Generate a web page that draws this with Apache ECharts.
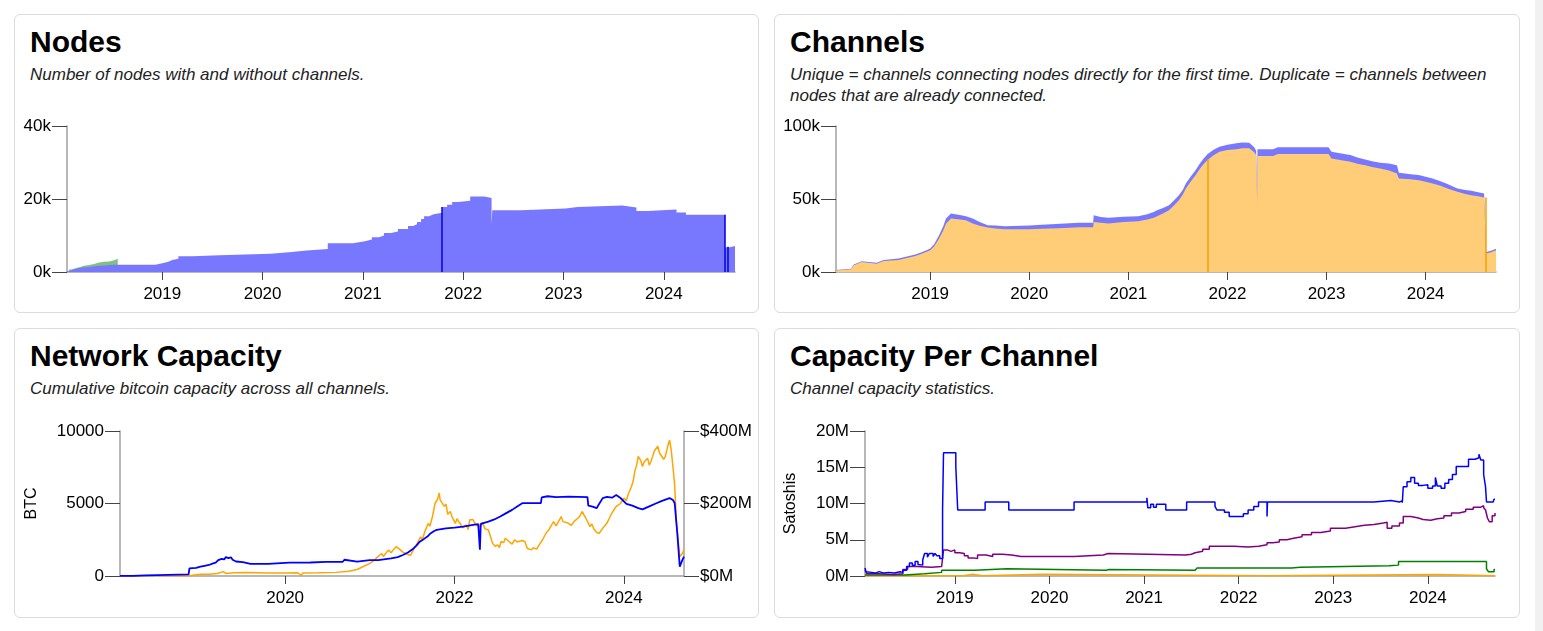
<!DOCTYPE html>
<html>
<head>
<meta charset="utf-8">
<script src="https://cdn.jsdelivr.net/npm/echarts@6/dist/echarts.min.js"></script>
<style>
  html, body { margin:0; padding:0; width:1543px; height:631px; overflow:hidden; background:#fff;
    font-family:'Liberation Sans', Arial, Helvetica, sans-serif; }
  .panel { position:absolute; box-sizing:border-box; border:1px solid #dcdcdc; border-radius:6px; background:#fff; }
  .title { position:absolute; left:15px; font-weight:bold; font-size:30px; line-height:30px; color:#000; white-space:nowrap; }
  .sub { position:absolute; left:15px; right:15px; font-style:italic; font-size:17px; line-height:21px; color:#222; }
  #chart { position:absolute; left:0; top:0; width:1543px; height:631px; z-index:2; }
  #scroll { position:absolute; left:1535px; top:0; width:8px; height:631px; background:#f1f1f1; }
</style>
</head>
<body>
<div class="panel" style="left:14px;top:14px;width:745px;height:299px;">
  <div class="title" style="top:12px;">Nodes</div>
  <div class="sub" style="top:49px;">Number of nodes with and without channels.</div>
</div>
<div class="panel" style="left:774px;top:14px;width:746px;height:299px;">
  <div class="title" style="top:12px;">Channels</div>
  <div class="sub" style="top:49px;">Unique = channels connecting nodes directly for the first time. Duplicate = channels between nodes that are already connected.</div>
</div>
<div class="panel" style="left:14px;top:328px;width:745px;height:290px;">
  <div class="title" style="top:12px;">Network Capacity</div>
  <div class="sub" style="top:49px;">Cumulative bitcoin capacity across all channels.</div>
</div>
<div class="panel" style="left:774px;top:328px;width:746px;height:290px;">
  <div class="title" style="top:12px;">Capacity Per Channel</div>
  <div class="sub" style="top:49px;">Channel capacity statistics.</div>
</div>
<div id="scroll"></div>
<div id="chart"></div>
<script>
// ---------- DATA (x = decimal year) ----------
const yearTicks = [2019, 2020, 2021, 2022, 2023, 2024];
const yearTicksCapacity = [2020, 2022, 2024];

// Nodes (thousands)
const nodeDates = [2018.05,2018.07,2018.10,2018.14,2018.18,2018.22,2018.27,2018.32,2018.37,2018.42,2018.47,2018.52,2018.556,
  2018.93,2019.00,2019.06,2019.10,2019.16,2019.30,2019.57,2020.08,2020.29,2020.44,2020.65,2020.90,2021.02,2021.09,2021.16,
  2021.21,2021.28,2021.35,2021.45,2021.50,2021.54,2021.58,2021.61,2021.66,2021.705,2021.79,2021.84,2021.89,2021.95,2022.07,
  2022.21,2022.283,2022.29,2022.575,2023.02,2023.14,2023.586,2023.727,2023.845,2023.98,2024.127,2024.221,2024.611,2024.66,2024.71];
const nodesWithChannels = [0.3,0.6,0.9,1.1,1.3,1.4,1.6,1.7,1.8,1.9,2.0,2.0,2.0,
  2.4,2.8,3.3,3.6,4.3,4.6,5.0,5.5,5.9,6.3,7.9,8.4,8.9,9.5,10.0,
  10.7,11.1,11.8,12.6,13.1,13.7,14.5,15.3,15.8,16.2,17.8,18.4,19.2,19.5,20.7,
  20.3,12.8,16.9,17.4,17.8,18.2,17.7,16.7,16.9,17.1,16.3,15.7,6.8,7.1,7.2];
const nodesWithoutChannels = [0,0.1,0.2,0.3,0.4,0.5,0.6,0.9,1.0,1.0,1.2,1.6,0,
  0,0,0,0,0,0,0,0,0,0,0,0,0,0,0,
  0,0,0,0,0,0,0,0,0,0,0,0,0,0,0,
  0,0,0,0,0,0,0,0,0,0,0,0,0,0,0];
const nodeGapDates = [2021.79, 2024.611, 2024.64];
const nodeGapHeights = [17.8, 15.7, 6.9];

// Channels (thousands)
const chanDates = [2018.05,2018.06,2018.20,2018.23,2018.31,2018.46,2018.53,2018.68,2018.85,2018.92,2018.97,2019.00,2019.04,2019.09,
  2019.13,2019.16,2019.21,2019.30,2019.36,2019.43,2019.50,2019.58,2019.66,2019.75,2020.00,2020.13,2020.36,2020.50,2020.645,2020.65,
  2020.72,2020.80,2020.95,2021.10,2021.19,2021.25,2021.29,2021.35,2021.41,2021.46,2021.51,2021.55,2021.58,2021.63,2021.68,
  2021.72,2021.76,2021.80,2021.86,2021.92,2022.00,2022.09,2022.15,2022.22,2022.27,2022.29,2022.300,2022.303,2022.46,2022.51,
  2023.02,2023.05,2023.15,2023.24,2023.32,2023.39,2023.46,2023.54,2023.63,2023.71,2023.73,2023.85,2023.93,2024.00,2024.07,
  2024.15,2024.22,2024.32,2024.40,2024.46,2024.53,2024.59,2024.611,2024.66,2024.71];
const uniqueChannels = [1.0,1.6,1.8,4.6,6.9,5.7,7.5,8.2,11.0,12.6,14.0,14.9,17.5,22.9,
  28.0,33.0,36.6,36.0,35.5,33.2,31.6,30.4,29.8,29.3,29.3,29.6,30.2,30.6,30.6,34.3,
  33.8,33.2,34.3,34.8,35.9,37.0,38.2,40.0,42.3,45.5,49.2,53.0,57.2,62.0,66.4,
  70.5,74.0,76.7,80.0,82.4,83.5,84.0,84.7,84.7,82.0,80.1,47.0,79.4,79.4,80.8,
  80.8,77.8,76.5,75.5,74.0,73.2,72.0,70.9,69.5,67.5,64.1,63.5,62.9,61.8,60.6,
  59.0,57.2,54.9,53.5,52.6,51.8,51.0,12.6,13.5,14.9];
const duplicateChannels = [0.3,0.4,0.4,0.5,0.5,0.6,0.7,1.0,1.0,1.1,1.1,1.2,1.5,2.3,
  3.0,3.6,3.4,3.0,2.7,3.4,2.6,1.6,2.0,2.1,2.5,2.7,3.0,3.2,3.2,4.6,
  3.8,3.9,3.5,3.3,3.7,3.9,4.1,3.8,3.5,3.4,3.4,3.4,3.4,3.4,3.4,
  3.6,3.8,4.1,3.8,3.4,3.6,4.1,4.0,3.9,3.5,3.0,0,4.6,4.6,4.6,
  4.6,4.6,4.6,4.6,4.3,3.9,3.9,3.9,4.8,5.7,3.9,3.5,3.5,3.5,3.5,
  3.2,3.0,2.3,2.6,3.0,2.8,2.8,1.1,1.0,1.1];
const chanGapDates = [2021.80, 2024.611];
const chanGapHeights = [77, 51];

// Network capacity: BTC (left axis)
const btcDates = [2018.05,2018.20,2018.35,2018.49,2018.50,2018.86,2018.87,2018.95,2019.00,2019.05,2019.10,2019.15,2019.18,
  2019.21,2019.25,2019.28,2019.30,2019.33,2019.36,2019.38,2019.42,2019.50,2019.59,2019.80,2020.05,2020.30,2020.48,2020.68,
  2020.70,2020.72,2020.85,2021.00,2021.10,2021.25,2021.33,2021.39,2021.45,2021.50,2021.55,2021.59,2021.64,2021.68,2021.72,
  2021.76,2021.79,2021.90,2022.00,2022.10,2022.22,2022.28,2022.295,2022.30,2022.31,2022.40,2022.47,2022.54,2022.60,2022.68,
  2022.74,2022.80,2023.02,2023.03,2023.10,2023.20,2023.35,2023.57,2023.58,2023.63,2023.68,2023.70,2023.75,2023.80,2023.86,
  2023.91,2023.96,2024.03,2024.10,2024.17,2024.22,2024.26,2024.32,2024.37,2024.45,2024.54,2024.58,2024.60,2024.63,2024.66,
  2024.69,2024.71];
const capacityBTC = [5,15,40,60,110,110,520,560,640,700,760,870,920,
  1100,1180,1150,1300,1230,1290,1120,1000,960,830,830,920,930,970,980,
  1120,1020,990,1100,1090,1220,1300,1450,1620,1820,2100,2370,2560,2720,2950,
  3100,3180,3290,3330,3400,3520,3580,3600,1820,3600,3750,3900,4100,4300,4560,
  4800,5020,5030,5420,5500,5440,5470,5440,4850,4780,4680,4900,5370,5450,5400,
  5580,5380,4980,4850,4680,4600,4700,4850,4980,5180,5370,5240,5020,3000,650,
  1100,1340];
// Network capacity: USD millions (right axis)
const usdDates = [2018.05,2018.50,2018.86,2018.87,2019.00,2019.10,2019.20,2019.27,2019.30,2019.40,2019.55,2019.80,2020.00,
  2020.15,2020.19,2020.21,2020.40,2020.60,2020.75,2020.85,2020.93,2021.00,2021.05,2021.08,2021.10,2021.14,2021.16,2021.18,
  2021.22,2021.25,2021.27,2021.31,2021.33,2021.35,2021.39,2021.44,2021.48,2021.53,2021.56,2021.60,2021.62,2021.65,2021.69,
  2021.71,2021.74,2021.77,2021.80,2021.82,2021.83,2021.85,2021.88,2021.90,2021.92,2021.95,2021.97,2022.01,2022.03,2022.05,
  2022.08,2022.10,2022.14,2022.16,2022.18,2022.22,2022.24,2022.26,2022.31,2022.33,2022.36,2022.40,2022.43,2022.45,2022.48,
  2022.51,2022.53,2022.55,2022.58,2022.60,2022.63,2022.65,2022.68,2022.71,2022.74,2022.76,2022.80,2022.83,2022.86,2022.88,
  2022.91,2022.93,2022.97,2023.00,2023.04,2023.06,2023.08,2023.11,2023.13,2023.17,2023.20,2023.22,2023.26,2023.28,2023.30,
  2023.34,2023.38,2023.41,2023.43,2023.47,2023.51,2023.53,2023.55,2023.60,2023.62,2023.65,2023.68,2023.71,2023.75,2023.78,
  2023.80,2023.83,2023.85,2023.88,2023.91,2023.96,2024.00,2024.03,2024.05,2024.09,2024.11,2024.13,2024.15,2024.17,2024.20,
  2024.22,2024.24,2024.28,2024.30,2024.32,2024.34,2024.36,2024.40,2024.42,2024.44,2024.47,2024.49,2024.52,2024.54,2024.56,
  2024.58,2024.60,2024.62,2024.66,2024.69,2024.71];
const capacityUSD = [0.2,0.5,1,4,4.5,5,7,12,7,9,9.5,8.5,8,
  9,2,8.5,9,10,13,18,27,35,43,50,46,62,54,56,
  72,64,68,81,76,74,66,60,57,78,90,108,100,123,145,
  138,164,200,212,229,210,205,192,198,170,178,164,145,158,150,
  140,133,141,128,155,155,146,140,136,148,130,127,105,90,82,
  86,78,95,92,104,98,96,88,100,94,92,98,95,76,81,
  72,78,74,86,100,96,118,126,130,150,138,140,164,150,155,
  146,140,150,155,162,178,168,160,136,144,128,120,118,132,140,
  146,160,170,182,192,200,215,208,225,247,262,290,305,330,318,
  302,315,325,306,316,330,345,358,340,335,322,330,360,375,345,
  300,250,150,53,62,72];

// Capacity per channel (millions of satoshis)
const blueDates = [2018.05,2018.06,2018.08,2018.12,2018.16,2018.20,2018.25,2018.30,2018.36,2018.42,2018.45,2018.49,2018.52,
  2018.55,2018.58,2018.61,2018.63,2018.66,2018.68,2018.71,2018.73,2018.77,2018.79,2018.81,2018.84,2018.87,2018.88,2019.01,
  2019.03,2019.32,2019.57,2020.26,2021.03,2021.04,2021.07,2021.10,2021.13,2021.23,2021.45,2021.75,2021.77,2021.85,2021.90,
  2022.05,2022.10,2022.16,2022.21,2022.30,2022.305,2023.43,2023.61,2023.70,2023.73,2023.74,2023.78,2023.82,2023.86,2023.90,
  2023.95,2024.00,2024.05,2024.08,2024.10,2024.14,2024.18,2024.22,2024.26,2024.30,2024.40,2024.43,2024.50,2024.54,2024.56,
  2024.59,2024.61,2024.62,2024.69,2024.70,2024.71];
const blueValues = [1.1,0.6,0.5,0.4,0.6,0.4,0.5,0.4,0.6,0.5,0.8,1.3,1.8,
  1.5,2.0,1.6,1.5,2.2,3.1,2.6,3.1,2.7,3.1,2.8,2.4,9.1,17.0,15.1,
  9.1,10.2,9.1,10.2,10.8,9.4,9.9,9.5,9.9,9.1,10.2,9.6,9.1,8.8,8.2,
  8.6,9.1,9.6,10.2,8.2,10.2,10.4,10.2,10.4,10.1,12.3,13.0,13.6,12.8,12.5,
  12.6,12.1,12.4,13.6,12.4,12.1,12.8,13.3,14.0,15.1,15.1,16.1,16.3,16.8,16.0,
  14.0,12.3,10.2,10.1,10.6,10.6];
const purpleDates = [2018.05,2018.07,2018.20,2018.35,2018.45,2018.50,2018.60,2018.75,2018.86,2018.88,2018.92,2018.96,2019.00,
  2019.05,2019.10,2019.14,2019.19,2019.24,2019.33,2019.40,2019.50,2019.60,2019.70,2020.26,2020.57,2020.62,2021.44,2021.50,
  2021.54,2021.62,2021.69,2021.80,2021.95,2022.10,2022.21,2022.30,2022.36,2022.43,2022.51,2022.58,2022.67,2022.77,2022.87,
  2022.97,2023.13,2023.23,2023.33,2023.43,2023.53,2023.57,2023.62,2023.70,2023.74,2023.82,2023.90,2023.95,2024.03,2024.10,
  2024.17,2024.25,2024.33,2024.40,2024.48,2024.56,2024.59,2024.61,2024.63,2024.65,2024.68,2024.71];
const purpleValues = [0.8,0.3,0.2,0.3,0.9,1.3,1.2,1.3,1.3,3.6,3.4,3.6,3.2,
  3.1,2.8,2.5,2.4,2.9,2.7,3.0,2.9,2.7,2.7,2.9,3.1,2.9,3.0,3.2,
  3.4,3.7,4.1,4.1,4.0,4.1,4.3,4.6,4.7,5.0,5.2,5.4,5.7,6.0,6.2,
  6.6,6.8,7.0,7.1,7.3,7.4,6.6,6.9,7.3,8.2,8.0,7.8,7.7,7.9,8.0,
  8.3,8.7,8.9,9.2,9.5,9.7,9.4,9.1,8.0,7.5,8.3,8.7];
const greenDates = [2018.05,2018.47,2018.68,2018.86,2019.21,2019.55,2020.60,2020.63,2021.54,2021.56,2022.56,2022.65,2023.59,
  2023.69,2024.58,2024.62,2024.64,2024.70,2024.71];
const greenValues = [0.15,0.3,0.5,0.8,1.0,0.8,0.9,0.8,1.0,1.1,1.2,1.4,1.5,
  2.0,2.0,1.0,0.6,0.9,0.9];
const orangeDates = [2018.05,2019.09,2019.19,2019.29,2019.93,2022.31,2024.10,2024.71];
const orangeValues = [0.02,0.25,0.02,0.25,0.02,0.22,0.02,0.02];

// ---------- CHART ----------
const X_MIN = 2018.05, X_MAX = 2024.71;
const FONT = "'Liberation Sans', Arial, sans-serif";
const pairs = (xs, ys) => xs.map((x, i) => [x, ys[i]]);
const gapLines = (xs, hs) => xs.map((x, i) => [{coord: [x, 0]}, {coord: [x, hs[i]]}]);
// totals for the stacked areas (upper layer drawn first, lower layer on top of it)
const nodesTotal = nodeDates.map((x, i) => [x, nodesWithChannels[i] + nodesWithoutChannels[i]])
  .filter((p, i) => nodesWithoutChannels[i] > 0 || (i > 0 && nodesWithoutChannels[i - 1] > 0));
const channelsTotal = chanDates.map((x, i) => [x, uniqueChannels[i] + duplicateChannels[i]]);

function xAxis(grid, ticks) {
  return {
    type: 'value', gridIndex: grid, min: X_MIN, max: X_MAX,
    axisLine: {show: true, onZero: false, lineStyle: {color: '#a0a0a0', width: 1.5}},
    axisTick: {show: true, customValues: ticks, length: 8, lineStyle: {color: '#444', width: 1}},
    axisLabel: {show: true, customValues: ticks, formatter: v => String(Math.round(v)), color: '#000',
      fontSize: 17, fontFamily: FONT, margin: 14},
    splitLine: {show: false}
  };
}
function yAxis(grid, max, interval, fmt, extra) {
  return Object.assign({
    type: 'value', gridIndex: grid, min: 0, max: max, interval: interval,
    axisLine: {show: true, onZero: false, lineStyle: {color: '#a0a0a0', width: 1.5}},
    axisTick: {show: true, length: 15, lineStyle: {color: '#444', width: 1}},
    axisLabel: {formatter: fmt, color: '#000', fontSize: 17, fontFamily: FONT, margin: 16},
    splitLine: {show: false}
  }, extra || {});
}

const chart = echarts.init(document.getElementById('chart'), null, {renderer: 'canvas'});
chart.setOption({
  animation: false,
  backgroundColor: 'transparent',
  grid: [
    {left: 67, top: 126, width: 668, height: 146},
    {left: 836, top: 126, width: 660, height: 146},
    {left: 120, top: 431, width: 564, height: 145},
    {left: 865, top: 431, width: 630, height: 145}
  ],
  xAxis: [
    xAxis(0, yearTicks), xAxis(1, yearTicks), xAxis(2, yearTicksCapacity), xAxis(3, yearTicks)
  ],
  yAxis: [
    yAxis(0, 40, 20, v => v + 'k'),
    yAxis(1, 100, 50, v => v + 'k'),
    yAxis(2, 10000, 5000, v => String(v), {name: 'BTC', nameLocation: 'middle', nameRotate: 90, nameGap: 80,
      nameTextStyle: {fontSize: 16, fontFamily: FONT, color: '#000'}}),
    yAxis(2, 400, 200, v => '$' + v + 'M', {position: 'right'}),
    yAxis(3, 20, 5, v => v + 'M', {name: 'Satoshis', nameLocation: 'middle', nameRotate: 90, nameGap: 66,
      nameTextStyle: {fontSize: 16, fontFamily: FONT, color: '#000'}})
  ],
  series: [
    {type: 'line', name: 'Without channels', xAxisIndex: 0, yAxisIndex: 0, step: 'end',
      data: nodesTotal, symbol: 'none', lineStyle: {width: 0},
      areaStyle: {color: '#80c080', opacity: 1}},
    {type: 'line', name: 'With channels', xAxisIndex: 0, yAxisIndex: 0, step: 'end',
      data: pairs(nodeDates, nodesWithChannels), symbol: 'none', lineStyle: {width: 0},
      areaStyle: {color: '#7878ff', opacity: 1},
      markLine: {silent: true, symbol: ['none', 'none'], label: {show: false},
        lineStyle: {color: '#0000e0', width: 1.5, type: 'solid'}, data: gapLines(nodeGapDates, nodeGapHeights)}},
    {type: 'line', name: 'Duplicate', xAxisIndex: 1, yAxisIndex: 1,
      data: channelsTotal, symbol: 'none', lineStyle: {width: 0},
      areaStyle: {color: '#7878ff', opacity: 1}},
    {type: 'line', name: 'Unique', xAxisIndex: 1, yAxisIndex: 1,
      data: pairs(chanDates, uniqueChannels), symbol: 'none', lineStyle: {width: 0},
      areaStyle: {color: '#ffcc77', opacity: 1},
      markLine: {silent: true, symbol: ['none', 'none'], label: {show: false},
        lineStyle: {color: '#f5a000', width: 1.5, type: 'solid'}, data: gapLines(chanGapDates, chanGapHeights)}},
    {type: 'line', name: 'USD', xAxisIndex: 2, yAxisIndex: 3, data: pairs(usdDates, capacityUSD),
      symbol: 'none', lineStyle: {color: '#ffa500', width: 1.5}},
    {type: 'line', name: 'BTC', xAxisIndex: 2, yAxisIndex: 2, data: pairs(btcDates, capacityBTC),
      symbol: 'none', lineStyle: {color: '#0000ff', width: 1.8}},
    {type: 'line', name: 'p4', xAxisIndex: 3, yAxisIndex: 4, step: 'end', data: pairs(orangeDates, orangeValues),
      symbol: 'none', lineStyle: {color: '#ffa500', width: 1.5}},
    {type: 'line', name: 'p3', xAxisIndex: 3, yAxisIndex: 4, step: 'end', data: pairs(greenDates, greenValues),
      symbol: 'none', lineStyle: {color: '#008000', width: 1.5}},
    {type: 'line', name: 'p2', xAxisIndex: 3, yAxisIndex: 4, step: 'end', data: pairs(purpleDates, purpleValues),
      symbol: 'none', lineStyle: {color: '#800080', width: 1.5}},
    {type: 'line', name: 'p1', xAxisIndex: 3, yAxisIndex: 4, step: 'end', data: pairs(blueDates, blueValues),
      symbol: 'none', lineStyle: {color: '#0000ff', width: 1.5}}
  ]
});
</script>
</body>
</html>
